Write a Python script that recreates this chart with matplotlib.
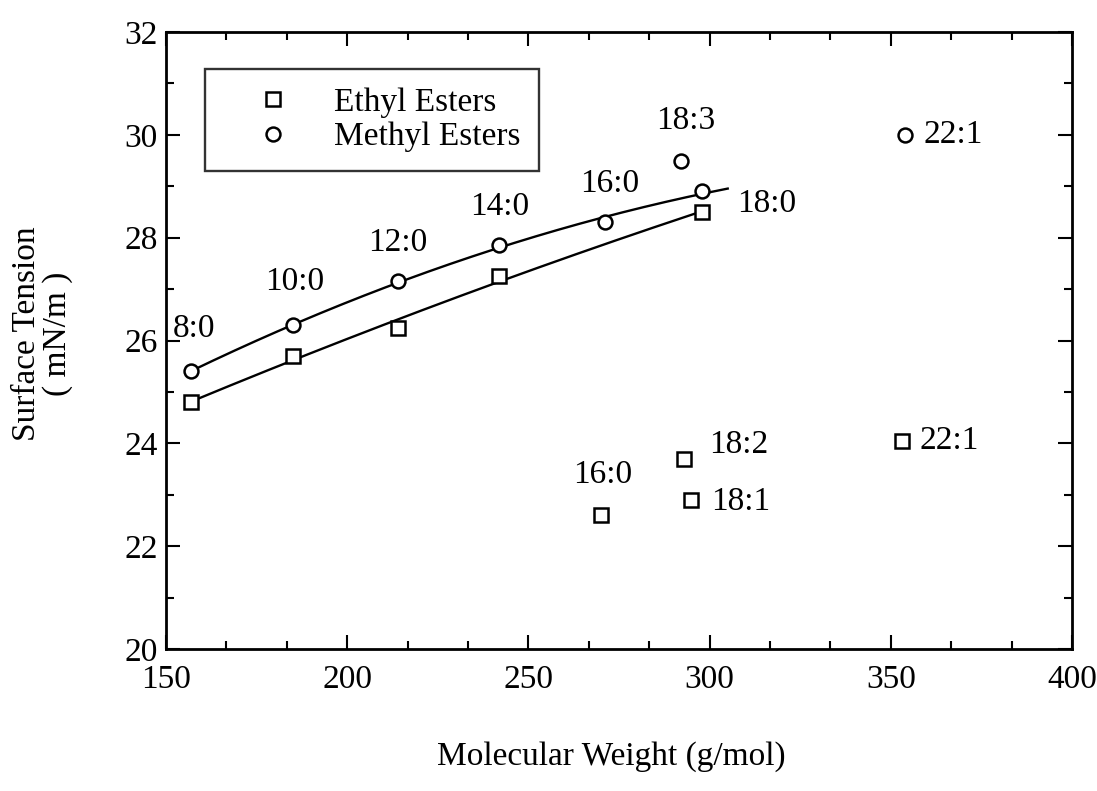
import numpy as np
import matplotlib
matplotlib.use("Agg")
import matplotlib.pyplot as plt
from matplotlib.ticker import MultipleLocator

plt.rcParams['font.family'] = ['Liberation Serif', 'DejaVu Serif']

# ---- data ----
methyl_mw = [157, 185, 214, 242, 271, 298]
methyl_st = [25.4, 26.3, 27.15, 27.85, 28.3, 28.9]
methyl_lbl = ['8:0', '10:0', '12:0', '14:0', '16:0', '18:0']

ethyl_mw = [157, 185, 214, 242, 298]
ethyl_st = [24.8, 25.7, 26.25, 27.25, 28.5]

methyl_other_mw = [292, 354]
methyl_other_st = [29.5, 30.0]
methyl_other_lbl = ['18:3', '22:1']

ethyl_other_mw = [270, 293, 295, 353]
ethyl_other_st = [22.6, 23.7, 22.9, 24.05]
ethyl_other_lbl = ['16:0', '18:2', '18:1', '22:1']

# fit-curve extents
methyl_fit_range = (157, 305)
ethyl_fit_range = (157, 298)

# ---- label placement (offset points, alignment) ----
methyl_lbl_pos = [((2, 31), 'center'), ((1, 31), 'center'), ((0, 28), 'center'),
                  ((0, 28), 'center'), ((4, 28), 'center'), ((25, -9), 'left')]
methyl_other_pos = [((4, 29), 'center'), ((13, 0), 'left')]
ethyl_other_pos = [((1, 29), 'center'), ((18, 10), 'left'), ((14, -1), 'left'), ((13, 0), 'left')]

FS = 24
L, R, T, B = 166, 1072, 32, 649
fig = plt.figure(figsize=(10.97, 7.91), dpi=100)
ax = fig.add_axes([L/1097, 1-B/791, (R-L)/1097, (B-T)/791])

mk = dict(linestyle='none', markerfacecolor='white', markeredgecolor='black',
          markersize=10, markeredgewidth=1.8)

# fitted curves
for xs, ys, rng in [(methyl_mw, methyl_st, methyl_fit_range), (ethyl_mw, ethyl_st, ethyl_fit_range)]:
    c = np.polyfit(xs, ys, 2)
    xx = np.linspace(rng[0], rng[1], 200)
    ax.plot(xx, np.polyval(c, xx), color='black', lw=1.7, zorder=2)

ax.plot(ethyl_mw, ethyl_st, marker='s', label='Ethyl Esters', zorder=3, **mk)
ax.plot(methyl_mw, methyl_st, marker='o', label='Methyl Esters', zorder=3, **mk)
ax.plot(methyl_other_mw, methyl_other_st, marker='o', zorder=3, **mk)
ax.plot(ethyl_other_mw, ethyl_other_st, marker='s', zorder=3, **mk)

def annotate(xs, ys, labels, pos):
    for x, y, t, (off, ha) in zip(xs, ys, labels, pos):
        ax.annotate(t, (x, y), xytext=off, textcoords='offset points',
                    ha=ha, va='center', fontsize=FS)

annotate(methyl_mw, methyl_st, methyl_lbl, methyl_lbl_pos)
annotate(methyl_other_mw, methyl_other_st, methyl_other_lbl, methyl_other_pos)
annotate(ethyl_other_mw, ethyl_other_st, ethyl_other_lbl, ethyl_other_pos)

ax.set_xlim(150, 400)
ax.set_ylim(20, 32)
ax.xaxis.set_major_locator(MultipleLocator(50))
ax.xaxis.set_minor_locator(MultipleLocator(50/3))
ax.yaxis.set_major_locator(MultipleLocator(2))
ax.yaxis.set_minor_locator(MultipleLocator(1))
ax.tick_params(which='both', direction='in', top=True, right=True, labelsize=FS, width=1.5)
ax.tick_params(axis='x', which='major', pad=11)
ax.tick_params(axis='y', which='major', pad=6)
ax.tick_params(which='major', length=10)
ax.tick_params(which='minor', length=6)
for s in ax.spines.values():
    s.set_linewidth(2)

leg = ax.legend(loc='upper left', bbox_to_anchor=((205-L)/(R-L), 1-(69-T)/(B-T)),
                fontsize=FS, frameon=True, fancybox=False, borderpad=0.55,
                handlelength=2.95, handletextpad=0.36, labelspacing=0.12,
                borderaxespad=0)
leg.get_frame().set_edgecolor('black')
leg.get_frame().set_linewidth(1.7)

fig.text(611/1097, 1-757/791, 'Molecular Weight (g/mol)', ha='center', va='center', fontsize=FS)
fig.text(42/1097, 1-334/791, 'Surface Tension\n( mN/m )', ha='center', va='center',
         rotation=90, fontsize=FS, linespacing=1.0)

fig.savefig('out.png', dpi=100)
